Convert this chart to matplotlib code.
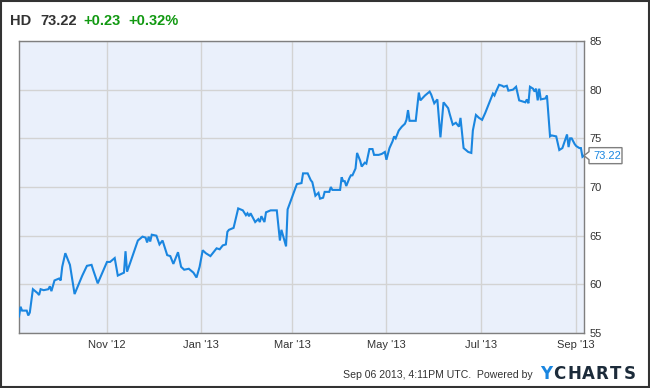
import matplotlib
matplotlib.use("Agg")
import matplotlib.pyplot as plt
from matplotlib.patches import Rectangle, Polygon
from matplotlib.transforms import Affine2D
import datetime as dt

plt.rcParams['font.family'] = ['Liberation Sans', 'DejaVu Sans']

# ---- data ----
start_date = dt.date(2012, 9, 5)
end_date = dt.date(2013, 9, 6)
day_offsets = [0, 1, 2, 5, 6, 7, 9, 12, 13, 14, 16, 19, 20, 21, 23, 26, 27, 28, 30, 33,
               36, 41, 44, 47, 48, 51, 57, 59, 62, 64, 68, 69, 70, 72, 77, 80, 82, 83, 84, 85,
               86, 89, 91, 93, 96, 98, 100, 103, 105, 107, 110, 113, 115, 117, 119, 121, 124, 126, 128, 130,
               132, 134, 135, 136, 139, 142, 145, 147, 148, 149, 150, 152, 153, 155, 156, 157, 159, 160, 163, 167,
               169, 170, 173, 174, 177, 180, 183, 184, 187, 189, 190, 192, 194, 195,
               197, 198, 201, 202, 203, 208, 209, 210, 211, 212, 214, 215, 216, 218, 219, 221, 222, 224, 225, 227,
               229, 230, 233, 235, 237, 238, 240, 242, 243, 244, 246, 248, 250, 251, 252, 253, 257, 259, 260, 263,
               266, 267, 269, 271, 273, 275, 278, 279, 281, 283, 285, 286, 288, 291, 293, 294, 296, 298, 300, 302,
               304, 307, 308, 309, 311, 313, 314, 316, 317, 320, 322, 324, 328, 329, 330, 331, 333, 334, 335, 336,
               337, 338, 341, 342, 344, 345, 348, 350, 352, 355, 356, 357, 358, 360, 361, 363, 364, 365, 366]
prices = [56.7, 57.7, 57.3, 57.3, 56.8, 57.1, 59.5, 59.1, 58.9, 59.5, 59.4, 59.5, 59.8, 59.3, 60.4, 60.6, 60.4, 61.8, 63.2, 62.0,
          59.0, 60.9, 61.9, 62.0, 61.5, 60.1, 62.3, 62.3, 62.7, 60.9, 61.2, 63.4, 61.3, 62.2, 64.5, 64.9, 64.8, 64.3, 64.9, 64.4,
          65.1, 65.0, 64.1, 64.5, 63.0, 62.9, 62.1, 63.3, 61.8, 61.5, 61.6, 61.2, 60.7, 61.8, 63.5, 63.2, 62.9, 63.3, 63.7, 63.6,
          64.0, 64.1, 65.4, 65.6, 65.8, 67.8, 67.6, 67.1, 67.3, 67.0, 67.3, 66.7, 66.4, 66.7, 66.4, 67.0, 66.4, 67.4, 67.6, 67.6,
          64.5, 65.6, 63.9, 67.7, 69.0, 70.3, 70.4, 71.4, 71.4, 70.7, 70.5, 69.1, 69.4, 68.8,
          68.9, 69.5, 69.5, 70.0, 69.7, 69.7, 71.0, 70.6, 70.6, 70.1, 70.9, 71.2, 71.2, 71.9, 73.5, 72.7, 72.1, 72.5, 72.4, 73.9,
          73.9, 73.3, 73.3, 73.4, 73.6, 72.8, 74.0, 74.7, 75.2, 75.0, 75.8, 76.2, 76.5, 76.9, 77.9, 76.8, 76.8, 79.7, 78.9, 79.4,
          79.8, 79.5, 78.6, 79.0, 75.1, 78.7, 78.1, 77.5, 76.4, 76.6, 76.2, 77.1, 74.0, 73.6, 73.5, 75.8, 77.4, 77.1, 76.9, 77.6,
          78.4, 79.6, 79.4, 79.8, 80.5, 80.4, 80.3, 80.4, 79.9, 80.0, 80.3, 78.9, 78.7, 79.0, 78.6, 80.3, 80.1, 79.8, 80.1, 78.9,
          80.1, 79.0, 79.1, 79.4, 75.2, 75.3, 75.2, 73.8, 74.0, 75.4, 74.1, 75.0, 75.0, 74.4, 74.2, 74.0, 74.0, 73.1, 73.22]
tick_dates = [dt.date(2012, 11, 1), dt.date(2013, 1, 1), dt.date(2013, 3, 1),
              dt.date(2013, 5, 1), dt.date(2013, 7, 1), dt.date(2013, 9, 1)]
tick_labels = ["Nov '12", "Jan '13", "Mar '13", "May '13", "Jul '13", "Sep '13"]
y_ticks = [55, 60, 65, 70, 75, 80, 85]
ticker_name = "HD"
last_price = "73.22"
change = "+0.23"
change_pct = "+0.32%"
footer = "Sep 06 2013, 4:11PM UTC.  Powered by"
logo_letters = ["Y", "C", "H", "A", "R", "T", "S"]

dates = [start_date + dt.timedelta(days=d) for d in day_offsets]

W, H = 650, 388
fig = plt.figure(figsize=(W / 100, H / 100), dpi=100)
fig.patch.set_facecolor('white')
ax = fig.add_axes([19 / W, 1 - 333 / H, (584 - 19) / W, (333 - 41) / H])
ax.set_facecolor('#eaf0fb')

blue = '#1a86e0'
ax.plot(dates, prices, color=blue, lw=1.5, solid_joinstyle='miter', zorder=3)

ax.set_xlim(start_date, end_date)
ax.set_ylim(55, 85)
ax.set_xticks(tick_dates)
ax.set_xticklabels(tick_labels)
ax.set_yticks(y_ticks)
ax.yaxis.tick_right()
ax.tick_params(axis='both', length=0, labelsize=8, colors='#333333')
ax.tick_params(axis='x', pad=5)
ax.tick_params(axis='y', pad=4)
ax.grid(True, color='#d3d3d3', lw=1)
ax.set_axisbelow(True)
for s in ax.spines.values():
    s.set_color('#7f7f7f')
    s.set_linewidth(1)

# last-price callout box (pixel offsets from the last data point)
px, py = ax.transData.transform((ax.xaxis.convert_units(dates[-1]), prices[-1]))
callout = [(0, 0), (5, 4), (5, 8), (38, 8), (38, -8), (5, -8), (5, -4)]
tr = Affine2D().translate(px, py)
fig.patches.append(Polygon(callout, closed=True, fc='white', ec='#7f7f7f', lw=1,
                           transform=tr, zorder=5))
fig.text((px + 9) / W, (py) / H, last_price, fontsize=8, color=blue, va='center', ha='left', zorder=6)

# header
hy = 1 - 21 / H
fig.text(10 / W, hy, ticker_name, fontsize=10.5, fontweight='bold', color='#333333', va='center', ha='left')
fig.text(40 / W, hy, last_price, fontsize=10.5, fontweight='bold', color='#333333', va='center', ha='left')
fig.text(83 / W, hy, change, fontsize=10.5, fontweight='bold', color='#119911', va='center', ha='left')
fig.text(128 / W, hy, change_pct, fontsize=10.5, fontweight='bold', color='#119911', va='center', ha='left')

# footer
fy = 1 - 375 / H
fig.text(533 / W, fy, footer, fontsize=7.6, color='#333333', va='center', ha='right')
logo_x = [546.5, 559.5, 574, 588, 602, 615.5, 630]
for i, (ch, lx) in enumerate(zip(logo_letters, logo_x)):
    fig.text(lx / W, 1 - 374 / H, ch, fontsize=12, fontweight='heavy', family='DejaVu Sans',
             color=blue if i == 0 else '#1c2b3a', va='center', ha='center')

# frame around figure
fig.patches.append(Rectangle((1 / W, 1.5 / H), (W - 2.5) / W, (H - 2.5) / H, transform=fig.transFigure,
                             fill=False, ec='#333333', lw=1.5))

fig.savefig('out.png', dpi=100)
